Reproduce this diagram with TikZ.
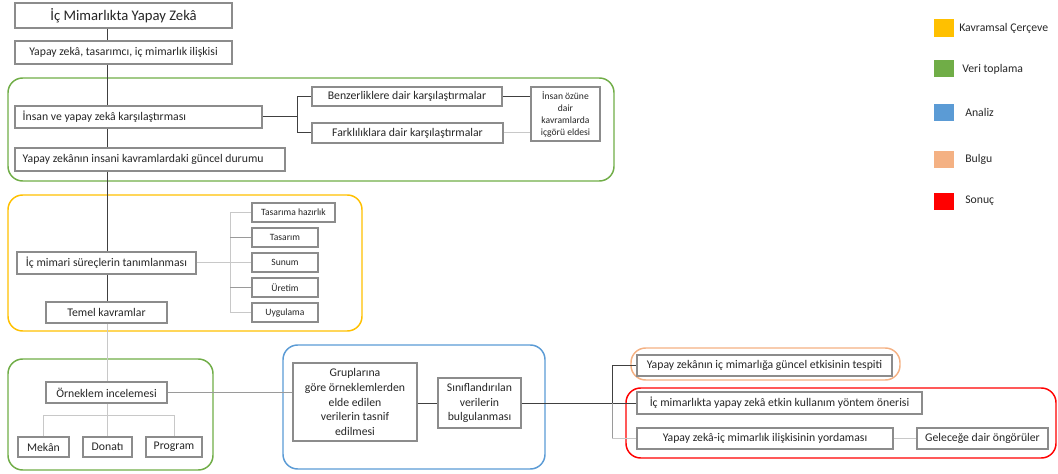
\documentclass[tikz,border=0pt]{standalone}
\usepackage{fontspec}
\setmainfont{Carlito}

\definecolor{boxline}{HTML}{8C8C8C}
\definecolor{txt}{HTML}{262626}
\definecolor{lndark}{HTML}{404040}
\definecolor{lnmid}{HTML}{9A9A9A}
\definecolor{lnlight}{HTML}{C8C8C8}
\definecolor{cyellow}{HTML}{FFC000}
\definecolor{cgreen}{HTML}{70AD47}
\definecolor{cblue}{HTML}{5B9BD5}
\definecolor{corange}{HTML}{F4B183}
\definecolor{cred}{HTML}{FF0000}

% \place{name}{style}{x1}{y1}{x2}{y2}{text}: a rectangle node spanning the two corners
\newcommand\place[7]{%
  \node[#2, minimum width={(#5-#3)*0.75pt}, minimum height={(#6-#4)*0.75pt}]
    (#1) at ({(#3+#5)/2},{(#4+#6)/2}) {#7};}

\begin{document}
\begin{tikzpicture}[x=0.75pt,y=-0.75pt,
  box/.style={draw=boxline, line width=0.8pt, fill=white, inner sep=0pt,
    align=center, text=txt, font=\fontsize{8.8}{11.2}\selectfont},
  smallbox/.style={box, font=\fontsize{7.2}{9}\selectfont},
  titlebox/.style={box, font=\fontsize{11}{13}\selectfont},
  lefttext/.style={anchor=west, inner sep=0pt, text=txt, font=\fontsize{8.8}{11.2}\selectfont},
  group/.style={draw=#1, line width=1.1pt, rounded corners=11pt, inner sep=0pt},
  swatch/.style={fill=#1, draw=none, inner sep=0pt, outer sep=0pt},
  legtext/.style={anchor=west, inner sep=0pt, text=txt, font=\fontsize{8.8}{11.2}\selectfont},
  dk/.style={draw=lndark, line width=0.75pt},
  md/.style={draw=lnmid, line width=0.75pt},
  lt/.style={draw=lnlight, line width=0.75pt}]
\useasboundingbox (0,0) rectangle (1058,474);

% phase frames
\place{gData1}{group=cgreen}{8}{78}{614}{181}{}
\place{gFrame}{group=cyellow}{8}{195}{362}{331}{}
\place{gData2}{group=cgreen}{8}{359}{213}{470}{}
\place{gAnalysis}{group=cblue}{283}{345}{545}{469}{}
\place{gFinding}{group=corange}{631}{348}{900}{380}{}
\place{gResult}{group=cred}{626}{388}{1056}{458}{}

% helper coordinates for trunk and brackets
\coordinate (tk)  at (107,0);
\coordinate (br1) at (297,0);
\coordinate (br2) at (230,0);
\coordinate (br3) at (0,415);
\coordinate (br4) at (612,0);

% main column
\place{title}{titlebox}{15}{3}{232}{28}{İç Mimarlıkta Yapay Zekâ}
\place{rel}{box}{15}{41}{232}{64}{Yapay zekâ, tasarımcı, iç mimarlık ilişkisi}
\place{cmp}{box}{15}{106}{262}{128}{}
\node[lefttext] (cmpt) at ([xshift=6pt]cmp.west) {İnsan ve yapay zekâ karşılaştırması};
\place{cur}{box}{15}{148}{285}{171}{}
\node[lefttext] (curt) at ([xshift=6pt]cur.west) {Yapay zekânın insani kavramlardaki güncel durumu};

% comparison branch
\place{sim}{box}{312}{87}{502}{106}{Benzerliklere dair karşılaştırmalar}
\place{dif}{box}{312}{123}{503}{143}{Farklılıklara dair karşılaştırmalar}
\place{ins}{smallbox}{531}{87}{600}{141}{İnsan özüne\\dair\\kavramlarda\\içgörü eldesi}

% interior design processes
\place{proc}{box}{17}{252}{196}{274}{İç mimari süreçlerin tanımlanması}
\place{temel}{box}{46}{302}{167}{323}{Temel kavramlar}
\place{s1}{smallbox}{252}{203}{335}{222}{Tasarıma hazırlık}
\place{s2}{smallbox}{252}{228}{318}{247}{Tasarım}
\place{s3}{smallbox}{252}{253}{318}{272}{Sunum}
\place{s4}{smallbox}{252}{278}{318}{297}{Üretim}
\place{s5}{smallbox}{252}{303}{318}{322}{Uygulama}

% sample study
\place{orn}{box}{46}{382}{167}{403}{Örneklem incelemesi}
\place{mek}{box}{18}{437}{69}{457}{Mekân}
\place{don}{box}{83}{437}{132}{457}{Donatı}
\place{prog}{box}{146}{437}{202}{457}{Program}

% analysis
\place{grp}{box}{293}{363}{417}{441}{Gruplarına\\göre örneklemlerden\\elde edilen\\verilerin tasnif\\edilmesi}
\place{sin}{box}{438}{378}{521}{428}{Sınıflandırılan\\verilerin\\bulgulanması}

% findings and results
\place{f1}{box}{637}{355}{892}{376}{Yapay zekânın iç mimarlığa güncel etkisinin tespiti}
\place{r1}{box}{637}{392}{922}{414}{İç mimarlıkta yapay zekâ etkin kullanım yöntem önerisi}
\place{r2}{box}{637}{428}{893}{449}{Yapay zekâ-iç mimarlık ilişkisinin yordaması}
\place{r3}{box}{917}{428}{1048}{449}{Geleceğe dair öngörüler}

% trunk
\draw[dk] (title.south -| tk) -- (rel.north -| tk);
\draw[dk] (rel.south -| tk) -- (cmp.north -| tk);
\draw[dk] (cmp.south -| tk) -- (cur.north -| tk);
\draw[dk] (cur.south -| tk) -- (proc.north -| tk);
\draw[dk] (proc.south -| tk) -- (temel.north -| tk);
\draw[lt] (temel.south -| tk) -- (orn.north -| tk);
\draw[lt] (orn.south -| tk) -- (don.north -| tk);

% comparison connectors
\draw[dk] (cmp.east) -- (cmp.east -| br1);
\draw[dk] (sim.west -| br1) -- (dif.west -| br1);
\draw[dk] (sim.west -| br1) -- (sim.west);
\draw[dk] (dif.west -| br1) -- (dif.west);
\draw[dk] (sim.east) -- (sim.east -| ins.west);
\draw[lt] (dif.east) -- (dif.east -| ins.west);

% process connectors
\draw[lt] (proc.east) -- (proc.east -| br2);
\draw[lt] (s1.west -| br2) -- (s5.west -| br2);
\draw[lt] (s1.west -| br2) -- (s1.west);
\draw[md] (s2.west -| br2) -- (s2.west);
\draw[lt] (s3.west -| br2) -- (s3.west);
\draw[md] (s4.west -| br2) -- (s4.west);
\draw[lt] (s5.west -| br2) -- (s5.west);

% sample connectors
\draw[lt] (mek.north) -- (mek.north |- br3) -- (prog.north |- br3) -- (prog.north);
\draw[md] (orn.east) -- (orn.east -| grp.west);

% analysis and result connectors
\draw[dk] (grp.east |- sin.west) -- (sin.west);
\draw[dk] (sin.east) -- (sin.east -| r1.west);
\draw[dk] (f1.west -| br4) -- (f1.west);
\draw[dk] (f1.west -| br4) -- (r1.west -| br4);
\draw[md] (r1.west -| br4) -- (r2.west -| br4);
\draw[lt] (r2.west -| br4) -- (r2.west);
\draw[lt] (r2.east) -- (r3.west);

% legend
\place{k1}{swatch=cyellow}{934}{19}{954}{37}{}
\place{k2}{swatch=cgreen}{934}{60}{954}{77}{}
\place{k3}{swatch=cblue}{934}{104}{954}{121}{}
\place{k4}{swatch=corange}{934}{151}{954}{168}{}
\place{k5}{swatch=cred}{934}{193}{954}{210}{}
\node[legtext] (k1t) at (959,28)  {Kavramsal Çerçeve};
\node[legtext] (k2t) at (962,69)  {Veri toplama};
\node[legtext] (k3t) at (965,112) {Analiz};
\node[legtext] (k4t) at (965,159) {Bulgu};
\node[legtext] (k5t) at (965,201) {Sonuç};
\end{tikzpicture}
\end{document}
